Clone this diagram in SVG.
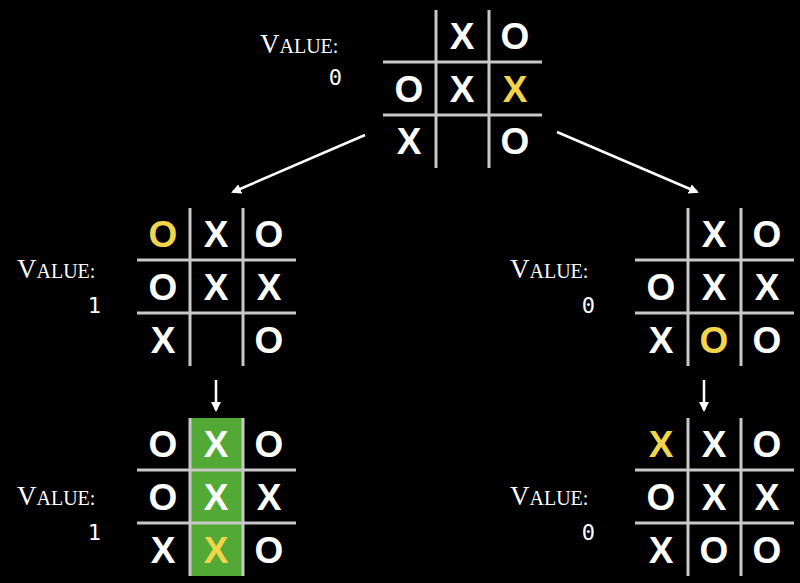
<svg xmlns="http://www.w3.org/2000/svg" width="800" height="583" viewBox="0 0 800 583">
<defs>
<style>
.g{stroke:#c8c8c8;stroke-width:3}
.m{font-family:"Liberation Sans",Arial,sans-serif;font-weight:bold;font-size:37px;fill:#fff;text-anchor:middle;dominant-baseline:central}
.y{fill:#f2d54a}
.v{font-family:"Liberation Serif","Times New Roman",serif;font-size:20px;fill:#fff}
.v .b{font-size:27px}
.n{font-family:"DejaVu Sans Mono","Liberation Mono",monospace;font-size:22px;fill:#fff;text-anchor:end}
.c{stroke:#fff;stroke-width:2.5;fill:none}
</style>
<marker id="ah" viewBox="0 0 10 10" refX="8" refY="5" markerWidth="4" markerHeight="4" orient="auto"><path d="M0,0L10,5L0,10z" fill="#fff"/></marker>
<g id="grid"><line class="g" x1="0" y1="52" x2="159" y2="52"/><line class="g" x1="0" y1="105" x2="159" y2="105"/><line class="g" x1="53" y1="0" x2="53" y2="158"/><line class="g" x1="106" y1="0" x2="106" y2="158"/></g>
</defs>
<rect width="800" height="583" fill="#000"/>
<g id="connectors">
<line class="c" x1="365" y1="135" x2="233" y2="192" marker-end="url(#ah)"/>
<line class="c" x1="557" y1="132" x2="697" y2="192" marker-end="url(#ah)"/>
<line class="c" x1="216" y1="380" x2="216" y2="410" marker-end="url(#ah)"/>
<line class="c" x1="704" y1="380" x2="704" y2="410" marker-end="url(#ah)"/>
</g>
<g id="top">
<use href="#grid" x="383" y="10"/>
<text class="v" x="260" y="53"><tspan class="b">V</tspan>ALUE:</text><text class="n" x="342" y="85">0</text>
<text class="m" x="462" y="36">X</text><text class="m" x="515" y="36">O</text>
<text class="m" x="409" y="89">O</text><text class="m" x="462" y="89">X</text><text class="m y" x="515" y="89">X</text>
<text class="m" x="409" y="141">X</text><text class="m" x="515" y="141">O</text>
</g>
<g id="midleft">
<use href="#grid" x="137" y="208"/>
<text class="v" x="17" y="278"><tspan class="b">V</tspan>ALUE:</text><text class="n" x="101" y="313">1</text>
<text class="m y" x="163" y="234">O</text><text class="m" x="216" y="234">X</text><text class="m" x="269" y="234">O</text>
<text class="m" x="163" y="287">O</text><text class="m" x="216" y="287">X</text><text class="m" x="269" y="287">X</text>
<text class="m" x="163" y="340">X</text><text class="m" x="269" y="340">O</text>
</g>
<g id="midright">
<use href="#grid" x="635" y="208"/>
<text class="v" x="510" y="278"><tspan class="b">V</tspan>ALUE:</text><text class="n" x="595" y="313">0</text>
<text class="m" x="714" y="234">X</text><text class="m" x="767" y="234">O</text>
<text class="m" x="661" y="287">O</text><text class="m" x="714" y="287">X</text><text class="m" x="767" y="287">X</text>
<text class="m" x="661" y="340">X</text><text class="m y" x="714" y="340">O</text><text class="m" x="767" y="340">O</text>
</g>
<g id="botleft">
<rect x="190" y="418" width="53" height="158" fill="#52a936"/>
<use href="#grid" x="137" y="418"/>
<text class="v" x="17" y="505"><tspan class="b">V</tspan>ALUE:</text><text class="n" x="101" y="540">1</text>
<text class="m" x="163" y="444">O</text><text class="m" x="216" y="444">X</text><text class="m" x="269" y="444">O</text>
<text class="m" x="163" y="497">O</text><text class="m" x="216" y="497">X</text><text class="m" x="269" y="497">X</text>
<text class="m" x="163" y="550">X</text><text class="m y" x="216" y="550">X</text><text class="m" x="269" y="550">O</text>
</g>
<g id="botright">
<use href="#grid" x="635" y="418"/>
<text class="v" x="510" y="505"><tspan class="b">V</tspan>ALUE:</text><text class="n" x="595" y="540">0</text>
<text class="m y" x="661" y="444">X</text><text class="m" x="714" y="444">X</text><text class="m" x="767" y="444">O</text>
<text class="m" x="661" y="497">O</text><text class="m" x="714" y="497">X</text><text class="m" x="767" y="497">X</text>
<text class="m" x="661" y="550">X</text><text class="m" x="714" y="550">O</text><text class="m" x="767" y="550">O</text>
</g>
</svg>
